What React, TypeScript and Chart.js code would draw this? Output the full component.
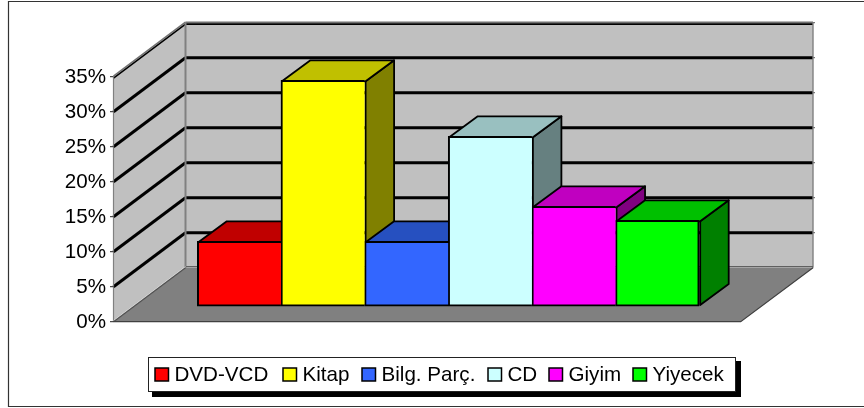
import React, { useEffect, useRef } from "react";
import { Chart, registerables } from "chart.js";

Chart.register(...registerables);

const categories = ["2004"];
const seriesNames = ["DVD-VCD", "Kitap", "Bilg. Parç.", "CD", "Giyim", "Yiyecek"];
const seriesValues = [9, 32, 9, 24, 14, 12];
const frontColors = ["#FF0000", "#FFFF00", "#3366FF", "#CCFFFF", "#FF00FF", "#00FF00"];
const topColors = ["#C00000", "#C0C000", "#2650C0", "#99C0C0", "#C000C0", "#00C000"];
const sideColors = ["#800000", "#808000", "#1A3380", "#668080", "#800080", "#008000"];

const FONT = "Liberation Sans";
const FONT_SIZE = 20.6;

// projection of the 3D box, relative to the plane that holds the bar fronts
const FRONT_DROP = 17.4;
const WALL_DX = 72;
const WALL_DY = 54;
const FRONT_LEFT = 113.5;
const FRONT_RIGHT = 740.7;
const BAR_DX = 28.5;
const BAR_DY = 21;

function line(ctx: CanvasRenderingContext2D, pts: number[][], color: string, width: number) {
  ctx.beginPath();
  pts.forEach((p, i) => (i ? ctx.lineTo(p[0], p[1]) : ctx.moveTo(p[0], p[1])));
  ctx.strokeStyle = color;
  ctx.lineWidth = width;
  ctx.stroke();
}

function poly(ctx: CanvasRenderingContext2D, pts: number[][], fill: string, stroke?: string, width = 1) {
  ctx.beginPath();
  pts.forEach((p, i) => (i ? ctx.lineTo(p[0], p[1]) : ctx.moveTo(p[0], p[1])));
  ctx.closePath();
  ctx.fillStyle = fill;
  ctx.fill();
  if (stroke) {
    ctx.strokeStyle = stroke;
    ctx.lineWidth = width;
    ctx.lineJoin = "round";
    ctx.stroke();
  }
}

const box3d = {
  id: "box3d",
  beforeDatasetsDraw(chart: any) {
    const ctx: CanvasRenderingContext2D = chart.ctx;
    const y = chart.scales.y;
    const ticks: number[] = y.ticks.map((t: any) => t.value);
    const fy = (v: number) => y.getPixelForValue(v) + FRONT_DROP;
    const L = FRONT_LEFT, R = FRONT_RIGHT, BL = L + WALL_DX, BR = R + WALL_DX + 0.3;
    const yMax = y.max, y0 = fy(0), yT = fy(yMax);
    ctx.save();
    // walls and floor
    poly(ctx, [[L, y0], [BL, y0 - WALL_DY], [BL, yT - WALL_DY], [L, yT]], "#C0C0C0");
    poly(ctx, [[BL, y0 - WALL_DY], [BR, y0 - WALL_DY], [BR, yT - WALL_DY], [BL, yT - WALL_DY]], "#C0C0C0");
    poly(ctx, [[L, y0], [BL, y0 - WALL_DY], [BR, y0 - WALL_DY], [R, y0]], "#808080");
    // grid lines
    ticks.forEach((v) => {
      if (v === 0) return;
      const p = fy(v);
      const shift = v === yMax ? 1.4 : 0;
      line(ctx, [[L, p + shift], [BL, p - WALL_DY + shift]], "#000000", v === yMax ? 1.6 : 3);
      line(ctx, [[BL, p - WALL_DY + shift], [BR, p - WALL_DY + shift]], "#000000", v === yMax ? 1.8 : 3);
      line(ctx, [[BR, p - WALL_DY], [BR + 2, p - WALL_DY]], "#555555", 1);
    });
    // edges
    line(ctx, [[L, yT - 0.6], [BL, yT - WALL_DY - 0.6]], "#707070", 1.6);
    line(ctx, [[BL, yT - WALL_DY - 0.4], [BR, yT - WALL_DY - 0.4]], "#707070", 1.6);
    line(ctx, [[L, yT], [L, y0]], "#808080", 1.2);
    line(ctx, [[BL, yT - WALL_DY], [BL, y0 - WALL_DY]], "#808080", 2);
    line(ctx, [[BR, yT - WALL_DY], [BR, y0 - WALL_DY]], "#808080", 1.4);
    line(ctx, [[BL, y0 - WALL_DY - 1], [BR, y0 - WALL_DY - 1]], "#606060", 1.2);
    line(ctx, [[L, y0 - 1], [BL, y0 - WALL_DY - 1]], "#E0E0E0", 1);
    line(ctx, [[L, y0], [BL, y0 - WALL_DY]], "#505050", 1.2);
    line(ctx, [[L, y0], [R, y0], [BR, y0 - WALL_DY]], "#404040", 1.2);
    ticks.forEach((v) => line(ctx, [[L - 3.5, fy(v)], [L, fy(v)]], "#222222", 1));
    // depth faces of the bars, left to right
    chart.data.datasets.forEach((_: any, i: number) => {
      const el = chart.getDatasetMeta(i).data[0];
      const { x, y: top, width } = el.getProps(["x", "y", "width"], true);
      const l = x - width / 2 + 1, r = x + width / 2 + 1;
      const t = top + 1;
      const base = el.getProps(["base"], true).base - 1;
      poly(ctx, [[r, t], [r + BAR_DX, t - BAR_DY], [r + BAR_DX, base - BAR_DY], [r, base]], sideColors[i], "#000000", 1.8);
      poly(ctx, [[l, t], [l + BAR_DX, t - BAR_DY], [r + BAR_DX, t - BAR_DY], [r, t]], topColors[i], "#000000", 1.8);
    });
    ctx.restore();
  },
};

const frameAndLegend = {
  id: "frameAndLegend",
  beforeDraw(chart: any) {
    const ctx: CanvasRenderingContext2D = chart.ctx;
    ctx.save();
    line(ctx, [[864, 1.5], [8.5, 1.5], [8.5, 406.5], [864, 406.5]], "#333333", 1.2);
    ctx.restore();
  },
  afterDraw(chart: any) {
    const ctx: CanvasRenderingContext2D = chart.ctx;
    ctx.save();
    ctx.fillStyle = "#000000";
    ctx.fillRect(152, 361, 589, 36);
    ctx.fillStyle = "#FFFFFF";
    ctx.fillRect(148, 357, 588, 35);
    ctx.strokeStyle = "#222222";
    ctx.lineWidth = 1;
    ctx.strokeRect(148.5, 357.5, 587, 34);
    ctx.font = `${FONT_SIZE}px "${FONT}"`;
    ctx.textBaseline = "alphabetic";
    ctx.textAlign = "left";
    const starts = [155, 283, 362, 488, 549, 633];
    chart.data.datasets.forEach((ds: any, i: number) => {
      const s = starts[i];
      ctx.fillStyle = ds.backgroundColor;
      ctx.fillRect(s, 368, 13.5, 13);
      ctx.strokeStyle = "#000000";
      ctx.lineWidth = 1.5;
      ctx.strokeRect(s, 368, 13.5, 13);
      ctx.fillStyle = "#000000";
      ctx.fillText(ds.label, s + 19.5, 381);
    });
    ctx.restore();
  },
};

export default function App() {
  const ref = useRef<HTMLCanvasElement>(null);
  useEffect(() => {
    const n = seriesNames.length;
    const chart = new Chart(ref.current as HTMLCanvasElement, {
      type: "bar",
      data: {
        labels: categories,
        datasets: seriesNames.map((label, i) => ({
          label,
          data: [seriesValues[i]],
          base: -0.25,
          clip: false,
          backgroundColor: frontColors[i],
          borderColor: "#000000",
          borderWidth: { top: 2, left: 2, bottom: 2, right: i === n - 1 ? 2 : 0 },
          borderSkipped: false,
          barPercentage: 1,
          categoryPercentage: 1,
        })),
      },
      options: {
        responsive: false,
        animation: false,
        layout: { padding: { left: 0, right: 864 - 699.2, top: 59.3, bottom: 408 - 304.3 } },
        plugins: { legend: { display: false }, title: { display: false }, tooltip: { enabled: false } },
        scales: {
          x: { display: false, offset: true, grid: { display: false } },
          y: {
            min: 0,
            max: 35,
            afterFit: (s: any) => {
              s.width = 197.3;
              s.paddingTop = 0;
              s.paddingBottom = 0;
            },
            grid: { display: false, drawTicks: false },
            border: { display: false },
            ticks: {
              stepSize: 5,
              autoSkip: false,
              padding: 91.3,
              labelOffset: FRONT_DROP + 0.7,
              color: "#000000",
              font: { family: FONT, size: FONT_SIZE },
              callback: (v: any) => `${v}%`,
            },
          },
        },
      },
      plugins: [box3d, frameAndLegend],
    } as any);
    return () => chart.destroy();
  }, []);
  return (
    <div style={{ position: "fixed", left: 0, top: 0, width: 864, height: 408, background: "#FFFFFF" }}>
      <canvas ref={ref} width={864} height={408} style={{ display: "block" }} />
    </div>
  );
}
